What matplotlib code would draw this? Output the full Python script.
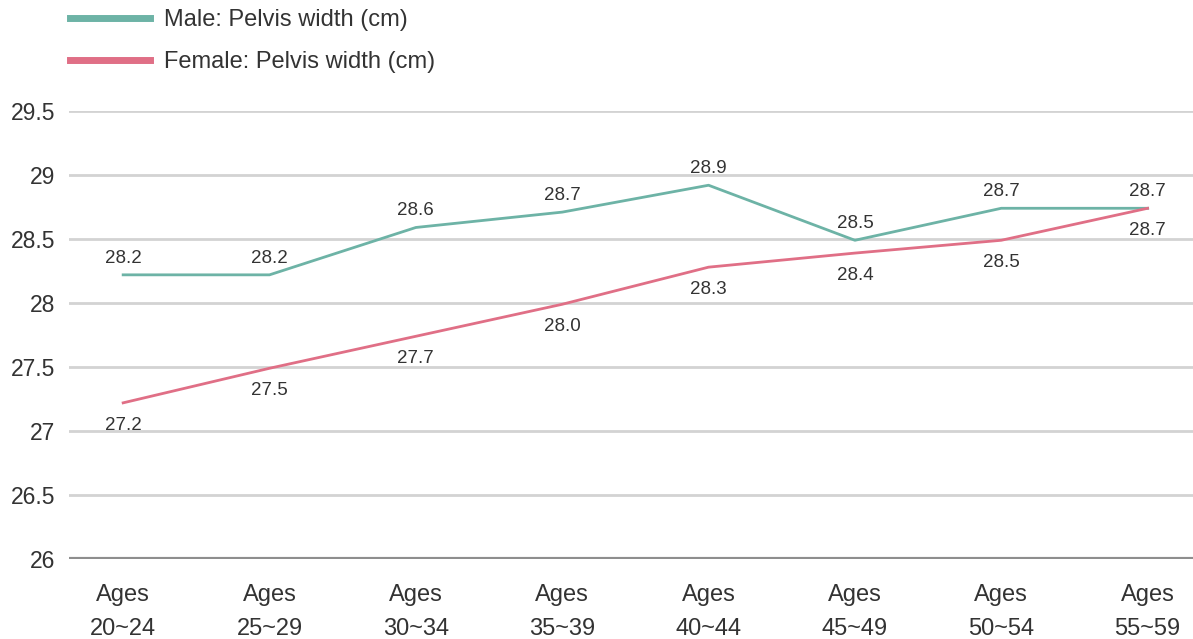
import matplotlib
matplotlib.use("Agg")
import matplotlib.pyplot as plt
from matplotlib import font_manager

categories = ["Ages\n20~24", "Ages\n25~29", "Ages\n30~34", "Ages\n35~39",
              "Ages\n40~44", "Ages\n45~49", "Ages\n50~54", "Ages\n55~59"]
male = [28.22, 28.22, 28.59, 28.71, 28.92, 28.49, 28.74, 28.74]
female = [27.22, 27.49, 27.74, 27.99, 28.28, 28.39, 28.49, 28.74]
yticks = [26, 26.5, 27, 27.5, 28, 28.5, 29, 29.5]
ytick_labels = ["26", "26.5", "27", "27.5", "28", "28.5", "29", "29.5"]

male_color = "#6db3a6"
female_color = "#e06f86"
text_color = "#333333"

names = {f.name for f in font_manager.fontManager.ttflist}
base = "Liberation Sans" if "Liberation Sans" in names else "DejaVu Sans"
plt.rcParams['font.family'] = [base, 'DejaVu Sans']

W, H = 1193, 639
fig = plt.figure(figsize=(W / 100, H / 100), dpi=100)
ax = fig.add_axes([69 / W, 1 - 559 / H, 1 - 69 / W, (559 - 111) / H])

x = list(range(len(categories)))
ax.set_xlim(-0.37, 7.31)
ax.set_ylim(26, 29.5)

for v in yticks[1:]:
    ax.axhline(v, color="#d3d3d3", lw=2, zorder=1)
ax.axhline(26, color="#8e8e8e", lw=3, zorder=2)

ax.plot(x, male, color=male_color, lw=2, zorder=3, clip_on=False,
        label="Male: Pelvis width (cm)")
ax.plot(x, female, color=female_color, lw=2, zorder=3, clip_on=False,
        label="Female: Pelvis width (cm)")

for xi, v in zip(x, male):
    ax.annotate(f"{v:.1f}", (xi, v), xytext=(0, 6), textcoords="offset points",
                ha="center", va="bottom", fontsize=13.5, color=text_color)
for xi, v in zip(x, female):
    ax.annotate(f"{v:.1f}", (xi, v), xytext=(0, -10), textcoords="offset points",
                ha="center", va="top", fontsize=13.5, color=text_color)

for s in ax.spines.values():
    s.set_visible(False)
ax.set_yticks(yticks)
ax.set_yticklabels(ytick_labels, fontsize=16.5, color=text_color)
ax.set_xticks(x)
ax.set_xticklabels(categories, fontsize=17, color=text_color, linespacing=1.7)
ax.tick_params(axis="both", length=0)
ax.tick_params(axis="y", pad=10)
ax.tick_params(axis="x", pad=18)

leg = ax.legend(loc="upper left", frameon=False, fontsize=17,
                handlelength=3.4, handletextpad=0.6, labelspacing=0.85,
                borderaxespad=0.0, borderpad=0.0)
for line in leg.get_lines():
    line.set_linewidth(5)
for t in leg.get_texts():
    t.set_color(text_color)
leg.set_bbox_to_anchor((70 / W, 1 - 9 / H), transform=fig.transFigure)

fig.savefig("out.png", dpi=100)
